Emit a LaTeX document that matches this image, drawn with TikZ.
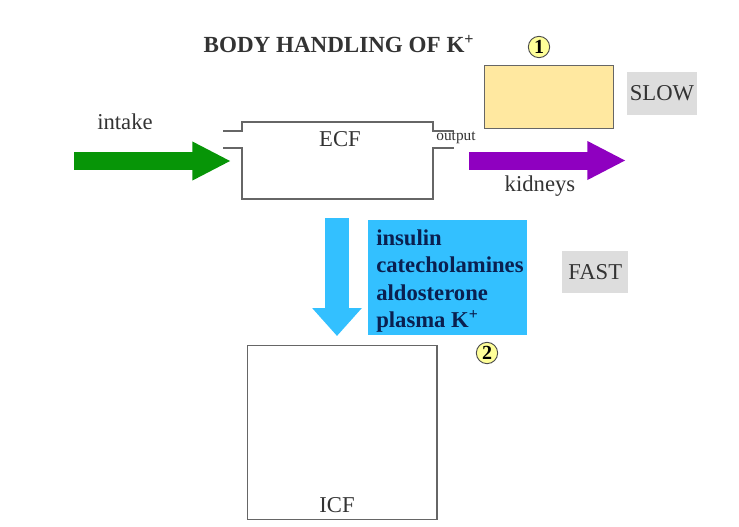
\documentclass[tikz,border=0pt]{standalone}
\usepackage{fontspec}
\setmainfont{Liberation Serif}
\usetikzlibrary{arrows.meta}
\definecolor{darkgreen}{HTML}{079507}
\definecolor{kidneypurple}{HTML}{8F00C0}
\definecolor{fastblue}{HTML}{33C0FF}
\definecolor{slowyellow}{HTML}{FFE8A0}
\definecolor{labelgray}{HTML}{DDDDDD}
\definecolor{linegray}{HTML}{666666}
\definecolor{circleyellow}{HTML}{FFFF99}
\definecolor{listnavy}{HTML}{0A2050}
\begin{document}
\begin{tikzpicture}[x=0.75pt, y=-0.75pt,
    every node/.style={font=\fontsize{17}{20}\selectfont, text=black!80},
    compartment/.style={draw=linegray, line width=1.1pt, inner sep=0pt, anchor=north west},
    speedlabel/.style={fill=labelgray, inner sep=0pt, anchor=north west},
    stepmark/.style={draw=black!70, fill=circleyellow, circle, line width=0.7pt, inner sep=0pt, minimum size=16pt, font=\fontsize{15}{15}\selectfont\bfseries, text=black},
    flowarrow/.style={line width=13.5pt, -{Triangle[length=29pt, width=27pt]}}
  ]
    \useasboundingbox (0, 0) rectangle (739, 526);

    % Title
    \node[font=\fontsize{17.3}{20}\selectfont] (title) at (339, 44) {\textbf{BODY HANDLING OF K\textsuperscript{+}}};

    % ECF compartment with its two openings
    \draw[draw=linegray, line width=1.1pt] (223, 131) -- (242, 131) -- (242, 122) -- (433, 122) -- (433, 131) -- (454, 131);
    \draw[draw=linegray, line width=1.1pt] (223, 148) -- (242, 148) -- (242, 199) -- (433, 199) -- (433, 148) -- (454, 148);
    \node (ECF) at (340, 139) {ECF};
    \node[font=\fontsize{11.5}{12}\selectfont] (output) at (456, 138) {output};

    % ICF compartment
    \node[compartment, minimum width=142pt, minimum height=130.5pt] (ICFbox) at (247, 345) {};
    \node (ICF) at (337, 505) {ICF};

    % Intake and output arrows
    \coordinate (intakeStart) at (74, 161);
    \coordinate (intakeEnd) at (231, 161);
    \coordinate (kidneyStart) at (469, 160.5);
    \coordinate (kidneyEnd) at (626, 160.5);
    \draw[flowarrow, darkgreen] (intakeStart) -- (intakeEnd);
    \draw[flowarrow, kidneypurple] (kidneyStart) -- (kidneyEnd);
    \node (intake) at (125, 122) {intake};
    \node (kidneys) at (540, 186) {kidneys};

    % Slow route
    \node[compartment, fill=slowyellow, minimum width=96.5pt, minimum height=47pt] (slowBox) at (484, 65) {};
    \node[speedlabel, minimum width=52pt, minimum height=32pt] (SLOW) at (627, 72) {SLOW};
    \node[stepmark] (one) at (539, 47) {1};

    % Fast route
    \coordinate (shiftStart) at (337, 218);
    \coordinate (shiftEnd) at (337, 336);
    \draw[flowarrow, fastblue, line width=18pt, -{Triangle[length=21pt, width=36pt]}] (shiftStart) -- (shiftEnd);
    \node[fill=fastblue, anchor=north west, inner sep=0pt, minimum width=119pt, minimum height=86pt] (regulatorsBox) at (368, 220) {};
    \node[anchor=west, inner sep=0pt, align=left, text=listnavy, font=\fontsize{17}{20.5}\selectfont\bfseries] (regulators) at (376, 281) {insulin\\catecholamines\\aldosterone\\plasma K\textsuperscript{+}};
    \node[speedlabel, minimum width=49.5pt, minimum height=31pt] (FAST) at (562, 251) {FAST};
    \node[stepmark] (two) at (487, 353) {2};
\end{tikzpicture}
\end{document}
